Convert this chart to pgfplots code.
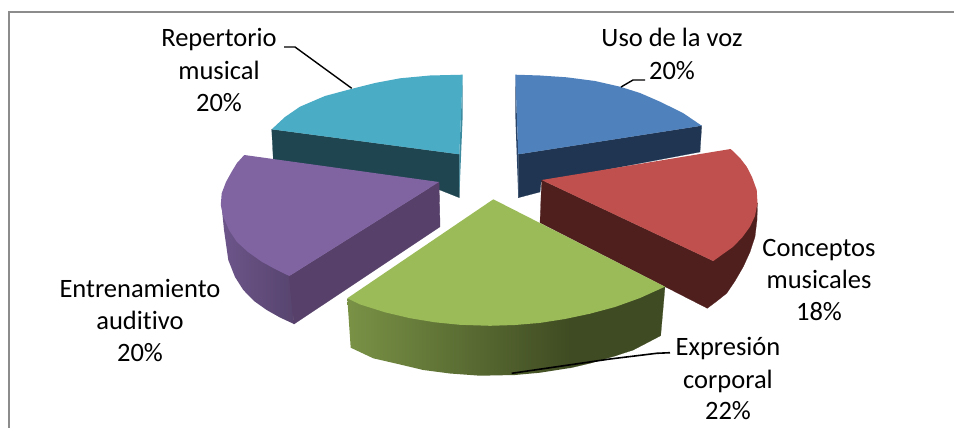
\documentclass[border=0pt]{standalone}
\usepackage{pgfplots}
\usepackage{fontspec}
\setmainfont[Ligatures=CommonOff]{Carlito}
\pgfplotsset{compat=1.18}
\definecolor{blueT}{HTML}{4F81BD}
\definecolor{blueS}{HTML}{1F3552}
\definecolor{redT}{HTML}{C0504D}
\definecolor{redS}{HTML}{4F1F1E}
\definecolor{greenT}{HTML}{9BBB59}
\definecolor{greenD}{HTML}{3F4B22}
\definecolor{purpT}{HTML}{8064A2}
\definecolor{purpS}{HTML}{574069}
\definecolor{tealT}{HTML}{4BACC6}
\definecolor{tealS}{HTML}{1E4550}
\newcommand{\lab}[3]{\node[anchor=base,inner sep=0pt,font=\fontsize{26.5}{30}\selectfont,text=black] at (axis cs:#1,#2) {#3};}
\begin{document}
\begin{tikzpicture}
\begin{axis}[
  scale only axis, width=954pt, height=428pt,
  xmin=0, xmax=954, ymin=0, ymax=428, y dir=reverse,
  hide axis, clip=true,
  every axis plot/.append style={mark=none}]
% page
\addplot[fill=white, draw=white, line width=0pt] coordinates {(0,0) (954,0) (954,428) (0,428)} --cycle;
% frame
\addplot[draw=black!45, line width=2pt] coordinates {(8.5,428) (8.5,12) (954,12)};
% --- teal slice
\addplot[fill=tealS, draw=tealS, line width=0.2pt] coordinates {(271.7,129.3) (273.3,160) (440,190) (459.3,197.7) (459.3,154.3)} --cycle;
\addplot[fill=tealT!80!black, draw=none] coordinates {(462.7,74.7) (459.3,154.3) (459.3,197.7) (462.5,120)} --cycle;
\addplot[fill=tealT, draw=none] coordinates {(459.3,154.3) (271.7,129.3) (285,117) (300,106.7) (325,96) (350,89.3) (375,83) (400,78.3) (430,75.5) (462.7,74.7)} --cycle;
% --- blue slice
\addplot[fill=blueS, draw=blueS, line width=0.2pt] coordinates {(518.3,154.3) (701.7,125.7) (700,152) (541,182) (540,192) (518.3,197.7)} --cycle;
\addplot[fill=blueS!80!blueT, draw=none] coordinates {(515.3,74.7) (518.3,154.3) (518.3,197.7) (515.5,120)} --cycle;
\addplot[fill=blueT, draw=none] coordinates {(518.3,154.3) (515.3,74.7) (540,75.5) (566.7,77.3) (595,81) (620,86.7) (640,93) (660,101.7) (683,113) (701.7,125.7)} --cycle;
% --- red slice
\addplot[fill=redS, draw=redS, line width=0.2pt] coordinates {(541.7,180) (540,222.7) (707.3,308.3) (717,301) (726.7,293.3) (735,281) (743.3,266.7) (750,252) (755,236.7) (757,220) (757.5,203) (713.3,261)} --cycle;
\addplot[fill=redT, draw=none] coordinates {(541.7,180) (730.7,149) (740,158) (746.7,166.7) (752,177) (756.7,190) (757.5,203) (755,216) (750,226.7) (742.5,237) (733.3,246.7) (723,254) (713.3,261)} --cycle;
% --- purple slice
\addplot[left color=purpT!85!black, right color=purpT!68!black, draw=none] coordinates {(221.5,205) (224,230) (228.3,260) (235,277) (243.3,290) (254,301) (266.7,310) (280,317.5) (294,324) (291,276)} --cycle;
\addplot[fill=purpS, draw=purpS, line width=0.4pt] coordinates {(439,182) (440,226.7) (294,324) (289.3,276)} --cycle;
\addplot[fill=purpT, draw=none] coordinates {(439,182) (244.3,155) (237,163) (231.7,171.7) (226,182) (221.7,193.3) (220.8,205) (223.3,216.7) (229,230) (236.7,241.7) (248,252) (261.7,261.7) (275,269) (289.3,276)} --cycle;
% --- green slice
\addplot[fill=greenD, draw=greenD, line width=0.2pt] coordinates {(570,290) (570,368) (590,363.3) (615,356) (633.3,350) (660.7,335.7) (665,286.7)} --cycle;
\addplot[left color=greenT!78!black, right color=greenD, draw=none] coordinates {(347.3,298.3) (350.7,347.7) (373.3,358.3) (398,364) (423.3,370) (450,373.5) (480,375.7) (515,375) (540,372.7) (570,368) (570,290)} --cycle;
\addplot[fill=greenT, draw=none] coordinates {(493.3,199.3) (347.3,298.3) (360,304.4) (385,312.3) (410,318.2) (435,322.3) (460,324.8) (490,325.8) (515,325) (540,322.9) (565,319) (590,313.7) (615,307) (640,298) (665,286.7)} --cycle;
% leader lines
\addplot[black, line width=1.4pt] coordinates {(621,87) (633,80) (645,80)};
\addplot[black, line width=1.4pt] coordinates {(284,47) (295,47) (351.7,88.3)};
\addplot[black, line width=1.6pt] coordinates {(511.7,373.3) (610,359) (656.7,353.3) (670,352.7)};
% labels
\lab{672}{47}{Uso de la voz}
\lab{672}{80}{20\%}
\lab{219}{47}{Repertorio}
\lab{219}{80}{musical}
\lab{219}{112}{20\%}
\lab{819}{256}{Conceptos}
\lab{819}{288}{musicales}
\lab{819}{320}{18\%}
\lab{140}{297}{Entrenamiento}
\lab{140}{329}{auditivo}
\lab{140}{361}{20\%}
\lab{728}{355}{Expresión}
\lab{728}{388}{corporal}
\lab{728}{419}{22\%}
\end{axis}
\end{tikzpicture}
\end{document}
